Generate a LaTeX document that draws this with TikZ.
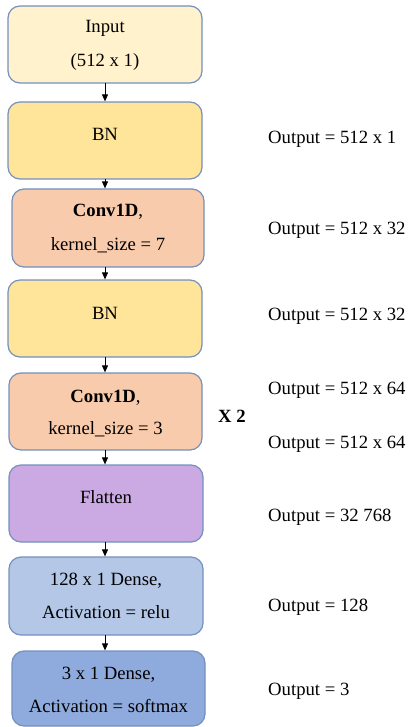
\documentclass[tikz,border=0pt]{standalone}
\usepackage{fontspec}
\setmainfont{Liberation Serif}
\usetikzlibrary{arrows.meta}
\definecolor{edge}{HTML}{7390BE}
\definecolor{cInput}{HTML}{FFF2CC}
\definecolor{cBN}{HTML}{FFE599}
\definecolor{cConv}{HTML}{F8CBAD}
\definecolor{cFlat}{HTML}{CBA9E2}
\definecolor{cDenseA}{HTML}{B4C7E7}
\definecolor{cDenseB}{HTML}{8FAADC}
\begin{document}
\begin{tikzpicture}[x=1pt,y=-1pt,
  layer/.style={draw=edge, line width=1.2pt, rounded corners=12pt, inner sep=0pt},
  lbl/.style={anchor=base, inner sep=0pt, font=\fontsize{18.7}{22}\selectfont},
  note/.style={anchor=base west, inner sep=0pt, font=\fontsize{18.7}{22}\selectfont},
  flow/.style={-{Triangle[length=7pt,width=6pt]}, line width=0.9pt}]
\useasboundingbox (0,0) rectangle (409,727);

% layer boxes
\node[layer, fill=cInput, minimum width=194pt, minimum height=77pt] (in) at (105,44.5) {};
\node[layer, fill=cBN, minimum width=194pt, minimum height=77pt] (bn1) at (105,140.5) {};
\node[layer, fill=cConv, minimum width=192pt, minimum height=78pt] (conv1) at (108,228) {};
\node[layer, fill=cBN, minimum width=194pt, minimum height=77pt] (bn2) at (105,318.5) {};
\node[layer, fill=cConv, minimum width=193pt, minimum height=77pt] (conv2) at (105.5,411.5) {};
\node[layer, fill=cFlat, minimum width=194pt, minimum height=77pt] (flat) at (106,503.5) {};
\node[layer, fill=cDenseA, minimum width=194pt, minimum height=78pt] (d1) at (106,596) {};
\node[layer, fill=cDenseB, minimum width=193pt, minimum height=75pt] (d2) at (108.5,688.5) {};

% box labels
\node[lbl] (tIn1) at (105,33) {Input};
\node[lbl] (tIn2) at (105,67) {(512 x 1)};
\node[lbl] (tBn1) at (105,141) {BN};
\node[lbl] (tC1a) at (108,217) {\textbf{Conv1D},};
\node[lbl] (tC1b) at (108,250) {kernel\_size = 7};
\node[lbl] (tBn2) at (105,319) {BN};
\node[lbl] (tC2a) at (105.5,402) {\textbf{Conv1D},};
\node[lbl] (tC2b) at (105.5,434) {kernel\_size = 3};
\node[lbl] (tFl) at (106,503) {Flatten};
\node[lbl] (tD1a) at (106,585) {128 x 1 Dense,};
\node[lbl] (tD1b) at (106,618) {Activation = relu};
\node[lbl] (tD2a) at (108.5,679) {3 x 1 Dense,};
\node[lbl] (tD2b) at (108.5,712) {Activation = softmax};

% connectors
\draw[flow] (105,83) coordinate (a0) -- (a0 |- bn1.north);
\draw[flow] (105,179) coordinate (a1) -- (a1 |- conv1.north);
\draw[flow] (105,267) coordinate (a2) -- (a2 |- bn2.north);
\draw[flow] (105,357) coordinate (a3) -- (a3 |- conv2.north);
\draw[flow] (105,450) coordinate (a4) -- (a4 |- flat.north);
\draw[flow] (105,542) coordinate (a5) -- (a5 |- d1.north);
\draw[flow] (105,635) coordinate (a6) -- (a6 |- d2.north);

% output shapes
\node[note] (o1) at (268,144) {Output = 512 x 1};
\node[note] (o2) at (268,234) {Output = 512 x 32};
\node[note] (o3) at (268,320) {Output = 512 x 32};
\node[note] (o4) at (268,394) {Output = 512 x 64};
\node[note] (o5) at (268,448) {Output = 512 x 64};
\node[note] (o6) at (268,521) {Output = 32 768};
\node[note] (o7) at (268,611) {Output = 128};
\node[note] (o8) at (268,695) {Output = 3};
\node[note] (rep) at (218,422) {\textbf{X 2}};
\end{tikzpicture}
\end{document}
